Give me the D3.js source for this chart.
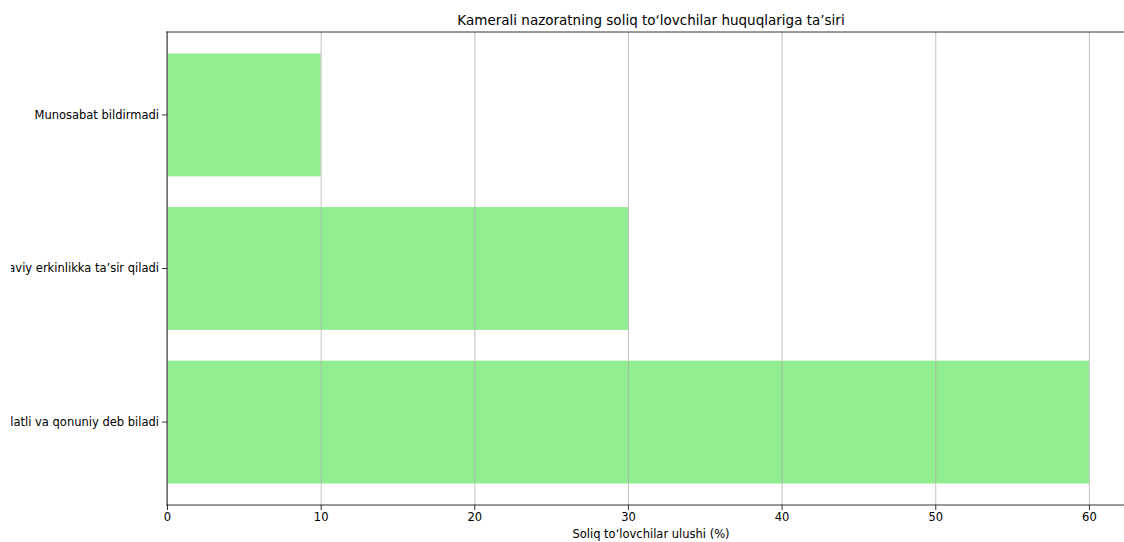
<!DOCTYPE html>
<html>
<head>
<meta charset="utf-8">
<script src="https://cdn.jsdelivr.net/npm/d3@7"></script>
<style>
  body { margin: 0; background: #fff; }
  svg { display: block; }
</style>
</head>
<body>
<div id="chart"></div>
<script>
// data (bottom to top, like matplotlib barh)
const categories = [
  "Adolatli va qonuniy deb biladi",
  "Tijoraviy erkinlikka ta’sir qiladi",
  "Munosabat bildirmadi"
];
const shares = [60, 30, 10];
const xTicks = [0, 10, 20, 30, 40, 50, 60];

const titleText = "Kamerali nazoratning soliq to‘lovchilar huquqlariga ta’siri";
const xLabelText = "Soliq to‘lovchilar ulushi (%)";

/*******************************/
/*    Declare the constants    */
/*******************************/
const width = 1124;
const height = 542;
const margin = {top: 32, right: -11, bottom: 37, left: 167};
const innerWidth = width - margin.left - margin.right;
const innerHeight = height - margin.top - margin.bottom;
const font = "'DejaVu Sans', sans-serif";

const svg = d3.select("#chart")
  .append("svg")
    .attr("width", width)
    .attr("height", height);

// the left edge of the original picture cuts the long labels
svg.append("clipPath")
    .attr("id", "labelClip")
  .append("rect")
    .attr("x", 11 - margin.left)
    .attr("y", -margin.top)
    .attr("width", width)
    .attr("height", height);

const innerChart = svg.append("g")
    .attr("transform", `translate(${margin.left}, ${margin.top})`);

const xScale = d3.scaleLinear()
  .domain([0, 63])
  .range([0, innerWidth]);

// rows bottom-up: first category at the bottom
const yScale = d3.scaleBand()
  .domain(categories.slice().reverse())
  .range([0, innerHeight])
  .paddingInner(0.2)
  .paddingOuter(0.14);

// bars
innerChart.selectAll(".bar")
  .data(categories.map((c, i) => ({cat: c, value: shares[i]})))
  .join("rect")
    .attr("class", "bar")
    .attr("x", xScale(0))
    .attr("y", d => yScale(d.cat))
    .attr("width", d => xScale(d.value) - xScale(0))
    .attr("height", yScale.bandwidth())
    .attr("fill", "#90ee90");

// vertical grid, drawn above the bars
innerChart.append("g")
  .selectAll("line")
  .data(xTicks)
  .join("line")
    .attr("x1", d => xScale(d) + 0.5)
    .attr("x2", d => xScale(d) + 0.5)
    .attr("y1", 0)
    .attr("y2", innerHeight)
    .attr("stroke", "#b0b0b0")
    .attr("stroke-width", 0.8);

// axes
const xAxis = d3.axisBottom(xScale)
  .tickValues(xTicks)
  .tickSize(5)
  .tickPadding(3)
  .tickSizeOuter(0);

const xg = innerChart.append("g")
    .attr("transform", `translate(0, ${innerHeight})`)
    .call(xAxis);

const yAxis = d3.axisLeft(yScale)
  .tickSize(5)
  .tickPadding(3)
  .tickSizeOuter(0);

const yg = innerChart.append("g")
    .attr("clip-path", "url(#labelClip)")
    .call(yAxis);

[xg, yg].forEach(g => {
  g.select(".domain").remove();
  g.selectAll("text")
    .attr("font-family", font)
    .attr("font-size", 11.5)
    .attr("fill", "#000");
  g.selectAll(".tick line").attr("stroke", "#000").attr("stroke-width", 0.8);
});

// spines: left, bottom, top (right one falls outside the page)
const spines = [
  [0, 0, 0, innerHeight],
  [0, innerHeight, innerWidth, innerHeight],
  [0, 0, innerWidth, 0]
];
innerChart.append("g")
  .selectAll("line")
  .data(spines)
  .join("line")
    .attr("x1", d => d[0])
    .attr("y1", d => d[1])
    .attr("x2", d => d[2])
    .attr("y2", d => d[3])
    .attr("stroke", "#000")
    .attr("stroke-width", 0.8)
    .attr("stroke-linecap", "square");

// title and axis label
svg.append("text")
    .text(titleText)
    .attr("x", margin.left + innerWidth / 2)
    .attr("y", 25)
    .attr("text-anchor", "middle")
    .attr("font-family", font)
    .attr("font-size", 13.5);

svg.append("text")
    .text(xLabelText)
    .attr("x", margin.left + innerWidth / 2)
    .attr("y", 538)
    .attr("text-anchor", "middle")
    .attr("font-family", font)
    .attr("font-size", 11.5);
</script>
</body>
</html>
